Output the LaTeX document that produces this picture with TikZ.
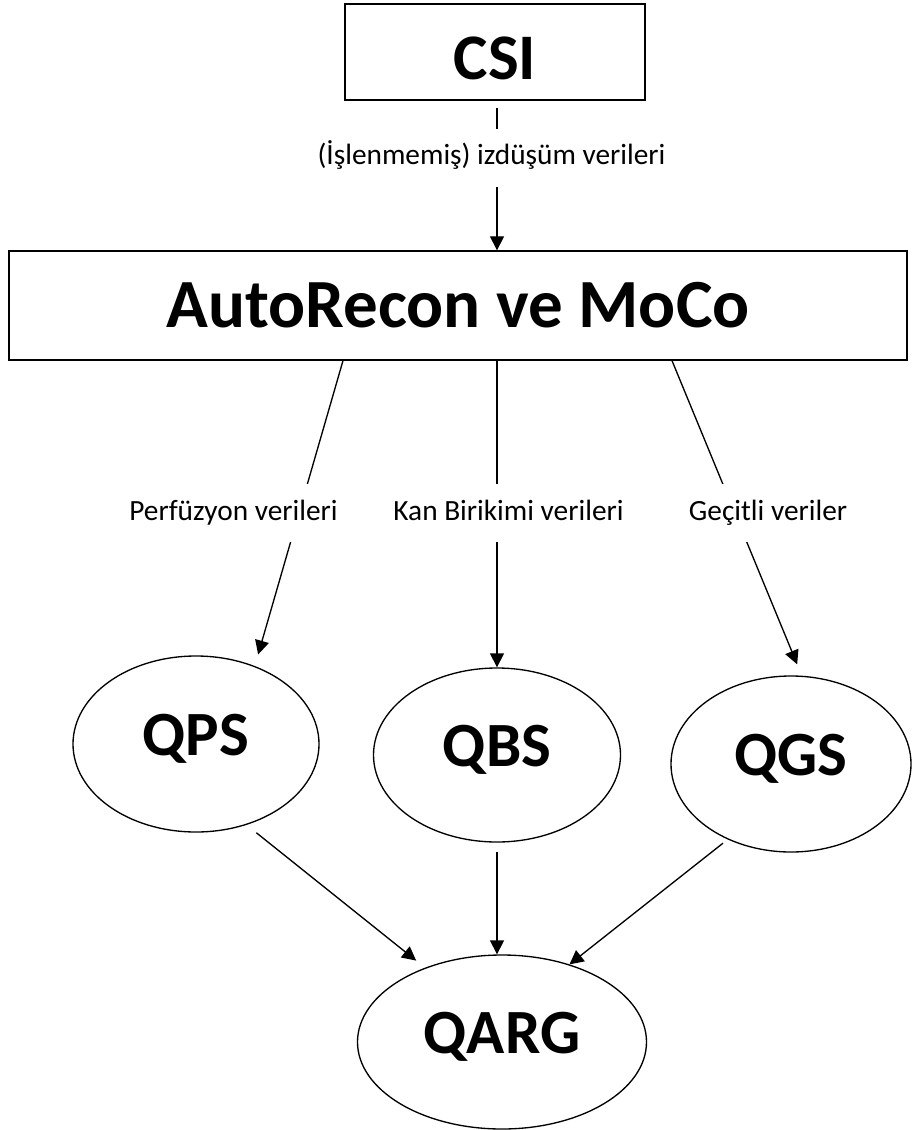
\documentclass[tikz,border=0pt]{standalone}
\usepackage{fontspec}
\setmainfont{Carlito}
\usetikzlibrary{arrows.meta,shapes.geometric,calc}

\begin{document}
\begin{tikzpicture}[x=0.75pt,y=-0.75pt,line width=1pt,
	box/.style={draw,rectangle,inner sep=0pt,text depth=0pt},
	bubble/.style={draw,ellipse,inner sep=0pt,text height=30pt,text depth=13.5pt,
		font=\fontsize{47.25}{50}\selectfont\bfseries},
	tag/.style={fill=white,anchor=base,inner xsep=3pt,inner ysep=10.1pt,
		text height=16.9pt,text depth=6.4pt,font=\fontsize{22}{26}\selectfont},
	arr/.style={-{Triangle[length=10.5pt,width=10.5pt]}}]
	\useasboundingbox (0,0) rectangle (912,1130);

	\node[box,minimum width=225pt,minimum height=72pt,text height=42pt,
		font=\fontsize{48.75}{52}\selectfont\bfseries] (csi) at (495,52) {CSI};
	\node[box,minimum width=673.5pt,minimum height=81.75pt,text height=33pt,
		font=\fontsize{51.75}{55}\selectfont\bfseries] (recon) at (458,305.5) {AutoRecon ve MoCo};

	\node[bubble,minimum width=184.5pt,minimum height=132pt] (qps) at (196,744) {QPS};
	\node[bubble,minimum width=185.25pt,minimum height=130.5pt] (qbs) at (497,755) {QBS};
	\node[bubble,minimum width=180pt,minimum height=132pt] (qgs) at (791,764) {QGS};
	\node[bubble,minimum width=216.75pt,minimum height=130.5pt] (qarg) at (502,1042) {QARG};

	\coordinate (mid) at ($(recon.south)+(39,0)$);
	\draw[arr,shorten <=5.25pt] (csi.south -| mid) -- (recon.north -| mid);

	\draw[arr,shorten >=9pt] ($(recon.south)+(-115,0)$) -- (qps.53);
	\draw[arr] (mid) -- (qbs.north);
	\draw[arr,shorten >=9.2pt] ($(recon.south)+(214,0)$) -- (qgs.83);

	\draw[arr,shorten <=9.4pt,shorten >=8.5pt] (qps.-58) -- (qarg.136);
	\draw[arr,shorten <=6.75pt] (qbs.south) -- (qbs.south |- qarg.north);
	\draw[arr,shorten <=4.5pt] (qgs.230) -- (qarg.49);

	\node[tag] (raw) at (491.5,165) {(İşlenmemiş) izdüşüm verileri};
	\node[tag] (perf) at (233.5,520) {Perfüzyon verileri};
	\node[tag] (blood) at (508.5,520) {Kan Birikimi verileri};
	\node[tag] (gated) at (768,520) {Geçitli veriler};
\end{tikzpicture}
\end{document}
